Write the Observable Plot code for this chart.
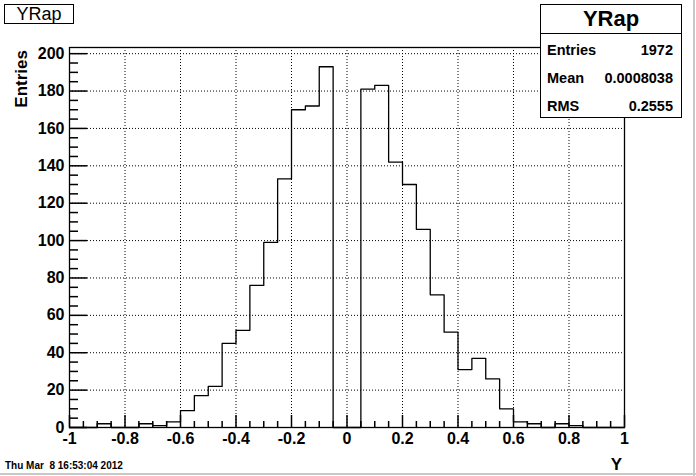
<!DOCTYPE html>
<html>
<head>
<meta charset="utf-8">
<script src="https://cdn.jsdelivr.net/npm/d3@7"></script>
<script src="https://cdn.jsdelivr.net/npm/@observablehq/plot@0.6"></script>
<style>
  body { margin: 0; background: #fff; }
  #wrap { position: relative; width: 696px; height: 476px; overflow: hidden; background: #fff;
          font-family: "Liberation Sans", Arial, Helvetica, sans-serif; color: #000; }
  #wrap svg { position: absolute; left: 0; top: 0; }
  .box { position: absolute; background: #fff; border: 1px solid #000; box-sizing: border-box; }
  #title { left: 4px; top: 4px; width: 70px; height: 20px; font-size: 18px; line-height: 19px; text-align: center; }
  #stats { left: 540px; top: 4px; width: 142px; height: 114px; }
  #stats .head { height: 28px; border-bottom: 1px solid #000; font-size: 22px; font-weight: bold; text-align: center; line-height: 28px; }
  #stats .row { position: absolute; left: 6px; right: 8px; height: 20px; font-size: 14.5px; font-weight: bold; line-height: 20px; }
  #stats .row span.v { position: absolute; right: 0; }
  #ylab { position: absolute; left: 12px; top: 50px; font-size: 17px; font-weight: bold;
          transform-origin: 0 0; transform: rotate(-90deg) translate(-100%, 0); white-space: nowrap; line-height: 20px; }
  #xlab { position: absolute; right: 74px; top: 455px; font-size: 17px; font-weight: bold; line-height: 20px; }
  #date { position: absolute; left: 5px; top: 460px; font-size: 10px; font-weight: bold; line-height: 12px; white-space: pre; }
  #edgeR { position: absolute; left: 693px; top: 0; width: 2px; height: 476px; background: #c8c8c8; }
  #edgeB { position: absolute; left: 0; top: 473px; width: 696px; height: 2px; background: #c8c8c8; }
</style>
</head>
<body>
<div id="wrap"></div>
<script>
// ---- data ----
const binEdges = [-1.00,-0.95,-0.90,-0.85,-0.80,-0.75,-0.70,-0.65,-0.60,-0.55,
                  -0.50,-0.45,-0.40,-0.35,-0.30,-0.25,-0.20,-0.15,-0.10,-0.05,
                   0.00, 0.05, 0.10, 0.15, 0.20, 0.25, 0.30, 0.35, 0.40, 0.45,
                   0.50, 0.55, 0.60, 0.65, 0.70, 0.75, 0.80, 0.85, 0.90, 0.95, 1.00];
const counts = [0, 0, 2, 0, 0, 2, 1, 3, 9, 17,
                22, 45, 52, 76, 99, 133, 170, 172, 193, 0,
                0, 181, 183, 142, 130, 106, 71, 51, 31, 37,
                26, 10, 3, 2, 0, 2, 1, 0, 0, 0];
const xMajorTicks = [-1, -0.8, -0.6, -0.4, -0.2, 0, 0.2, 0.4, 0.6, 0.8, 1];
const xMinorTicks = [-0.95,-0.9,-0.85,-0.75,-0.7,-0.65,-0.55,-0.5,-0.45,-0.35,-0.3,-0.25,-0.15,-0.1,-0.05,
                     0.05,0.1,0.15,0.25,0.3,0.35,0.45,0.5,0.55,0.65,0.7,0.75,0.85,0.9,0.95];
const yMajorTicks = [0, 20, 40, 60, 80, 100, 120, 140, 160, 180, 200];
const yMinorTicks = [5,10,15,25,30,35,45,50,55,65,70,75,85,90,95,105,110,115,125,130,135,
                     145,150,155,165,170,175,185,190,195];
const titleText = "YRap";
const statsLabels = ["Entries", "Mean", "RMS"];
const statsValues = ["1972", "0.0008038", "0.2555"];
const xTitle = "Y";
const yTitle = "Entries";
const dateText = "Thu Mar  8 16:53:04 2012";

// ---- layout ----
const W = 696, H = 476, mL = 69, mR = 72, mT = 47, mB = 49;
const xDomain = [-1, 1], yDomain = [0, 203.3];

const steps = counts.map((c, i) => ({x: binEdges[i], y: c}));
steps.push({x: binEdges[binEdges.length - 1], y: counts[counts.length - 1]});

const fmt = d => String(+d.toFixed(1));
const ff = "Liberation Sans, Arial, sans-serif";
const tk = {stroke: "#000", strokeWidth: 1.5, text: null, label: null};

const chart = Plot.plot({
  width: W,
  height: H,
  marginLeft: mL,
  marginRight: mR,
  marginTop: mT,
  marginBottom: mB,
  x: {domain: xDomain, label: null},
  y: {domain: yDomain, label: null},
  marks: [
    Plot.gridX(xMajorTicks.slice(1, -1), {stroke: "#000", strokeOpacity: 1, strokeDasharray: "1,2"}),
    Plot.gridY(yMajorTicks.slice(1), {stroke: "#000", strokeOpacity: 1, strokeDasharray: "1,2"}),
    Plot.line(steps, {x: "x", y: "y", curve: "step-after", stroke: "#000", strokeWidth: 1.3}),
    Plot.frame({stroke: "#000", strokeWidth: 1.3}),
    // inward ROOT-style ticks: axis ticks shifted back inside the frame
    Plot.axisX(xMinorTicks, {anchor: "bottom", tickSize: 6, dy: -6, ...tk}),
    Plot.axisX(xMajorTicks, {anchor: "bottom", tickSize: 12, dy: -12, ...tk}),
    Plot.axisY(yMinorTicks, {anchor: "left", tickSize: 9, dx: 9, ...tk}),
    Plot.axisY(yMajorTicks, {anchor: "left", tickSize: 18, dx: 18, ...tk}),
    Plot.axisX(xMajorTicks, {anchor: "bottom", tickSize: 0, tickPadding: 5, tickFormat: fmt, label: null,
                             fontSize: 16, fontWeight: "bold", fontFamily: ff, fill: "#000"}),
    Plot.axisY(yMajorTicks, {anchor: "left", tickSize: 0, tickPadding: 5, tickFormat: d => String(d), label: null,
                             fontSize: 16, fontWeight: "bold", fontFamily: ff, fill: "#000"})
  ]
});

const wrap = document.getElementById("wrap");
wrap.appendChild(chart);

function el(tag, attrs, text) {
  const e = document.createElement(tag);
  Object.assign(e, attrs);
  if (text != null) e.textContent = text;
  return e;
}
wrap.appendChild(el("div", {id: "title", className: "box"}, titleText));
const stats = el("div", {id: "stats", className: "box"});
stats.appendChild(el("div", {className: "head"}, titleText));
statsLabels.forEach((lab, i) => {
  const r = el("div", {className: "row"});
  r.style.top = (35 + 28 * i) + "px";
  r.appendChild(el("span", {}, lab));
  r.appendChild(el("span", {className: "v"}, statsValues[i]));
  stats.appendChild(r);
});
wrap.appendChild(stats);
wrap.appendChild(el("div", {id: "ylab"}, yTitle));
wrap.appendChild(el("div", {id: "xlab"}, xTitle));
wrap.appendChild(el("div", {id: "date"}, dateText));
wrap.appendChild(el("div", {id: "edgeR"}));
wrap.appendChild(el("div", {id: "edgeB"}));
</script>
</body>
</html>
